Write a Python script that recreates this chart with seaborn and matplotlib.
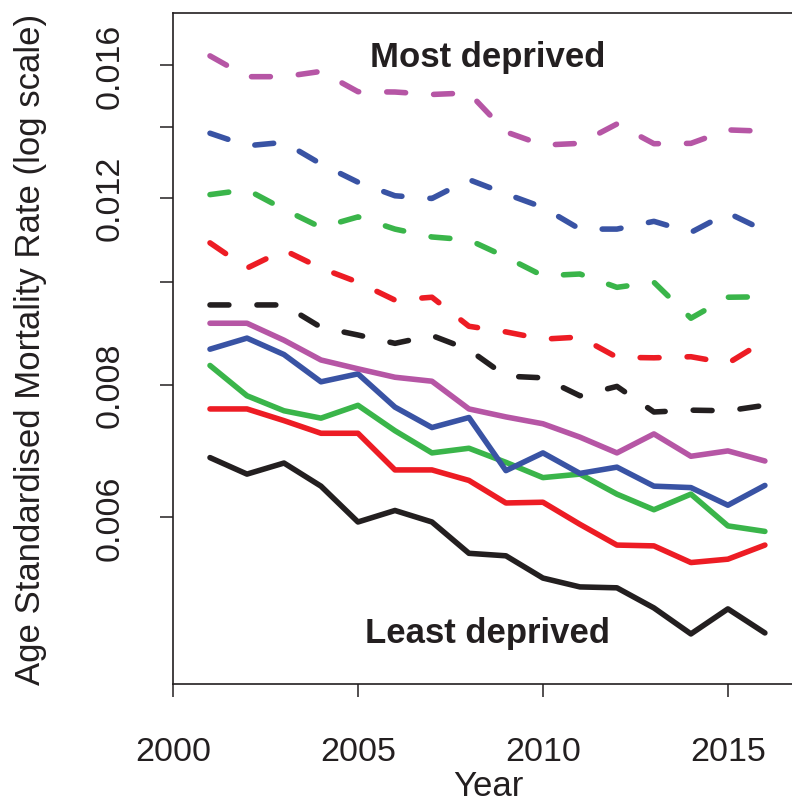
import matplotlib
matplotlib.use("Agg")
import matplotlib.pyplot as plt
import seaborn as sns
from matplotlib.ticker import FixedLocator, FixedFormatter, NullLocator

# --- data (age standardised mortality rate) ---
YEARS = list(range(2001, 2017))

# solid lines
SOLID_BLACK = [0.00683, 0.00659, 0.00675, 0.00642, 0.00594, 0.00609, 0.00594, 0.00555,
               0.00552, 0.00526, 0.00516, 0.00515, 0.00493, 0.00466, 0.00492, 0.00467]
SOLID_RED = [0.00759, 0.00759, 0.00740, 0.00720, 0.00720, 0.00665, 0.00665, 0.00650,
             0.00619, 0.00620, 0.00591, 0.00565, 0.00564, 0.00544, 0.00548, 0.00565]
SOLID_GREEN = [0.00834, 0.00781, 0.00756, 0.00744, 0.00765, 0.00724, 0.00690, 0.00697,
               0.00676, 0.00654, 0.00659, 0.00631, 0.00610, 0.00631, 0.00589, 0.00582]
SOLID_BLUE = [0.00864, 0.00885, 0.00854, 0.00805, 0.00819, 0.00762, 0.00729, 0.00745,
              0.00664, 0.00690, 0.00660, 0.00669, 0.00642, 0.00640, 0.00616, 0.00643]
SOLID_PURPLE = [0.00914, 0.00914, 0.00881, 0.00844, 0.00828, 0.00813, 0.00806, 0.00759,
                0.00746, 0.00735, 0.00714, 0.00690, 0.00719, 0.00685, 0.00693, 0.00678]

# dashed lines
DASH_BLACK = [0.00951, 0.00951, 0.00951, 0.00906, 0.00891, 0.00875, 0.00890, 0.00863,
              0.00815, 0.00812, 0.00781, 0.00797, 0.00754, 0.00757, 0.00756, 0.00765]
DASH_RED = [0.01088, 0.01030, 0.01071, 0.01030, 0.00999, 0.00961, 0.00967, 0.00908,
            0.00897, 0.00883, 0.00887, 0.00849, 0.00848, 0.00850, 0.00838, 0.00880]
DASH_GREEN = [0.01208, 0.01221, 0.01170, 0.01125, 0.01151, 0.01121, 0.01102, 0.01095,
              0.01055, 0.01013, 0.01017, 0.00988, 0.00999, 0.00924, 0.00967, 0.00968]
DASH_BLUE = [0.01380, 0.01343, 0.01353, 0.01291, 0.01241, 0.01205, 0.01198, 0.01248,
             0.01210, 0.01175, 0.01121, 0.01121, 0.01140, 0.01113, 0.01161, 0.01117]
DASH_PURPLE = [0.01632, 0.01560, 0.01560, 0.01578, 0.01510, 0.01509, 0.01501, 0.01506,
               0.01384, 0.01345, 0.01350, 0.01408, 0.01349, 0.01350, 0.01390, 0.01386]

COLORS = ["#231F20", "#ED1C24", "#3AB54A", "#3953A4", "#B656A5"]
SOLID = [SOLID_BLACK, SOLID_RED, SOLID_GREEN, SOLID_BLUE, SOLID_PURPLE]
DASHED = [DASH_BLACK, DASH_RED, DASH_GREEN, DASH_BLUE, DASH_PURPLE]

XTICKS = [2000, 2005, 2010, 2015]
YTICKS = [0.006, 0.008, 0.010, 0.012, 0.014, 0.016]
YTICK_LABELS = ["0.006", "0.008", "", "0.012", "", "0.016"]

TEXT_COLOR = "#231F20"

sns.set_style("ticks")
plt.rcParams['font.family'] = ['Liberation Sans', 'DejaVu Sans']

fig = plt.figure(figsize=(7.92, 8.04), dpi=100)
# axes runs a bit past the right edge, like the cropped original
ax = fig.add_axes([173 / 792, 1 - 684.5 / 804, 630 / 792, 670.5 / 804])

for vals, c in zip(DASHED, COLORS):
    sns.lineplot(x=YEARS, y=vals, ax=ax, color=c, linewidth=4,
                 linestyle=(0, (3.4, 5.05)), dash_capstyle='round',
                 dash_joinstyle='round')
for vals, c in zip(SOLID, COLORS):
    sns.lineplot(x=YEARS, y=vals, ax=ax, color=c, linewidth=4,
                 solid_capstyle='round', solid_joinstyle='round')

ax.set_yscale('log')
ax.set_xlim(2000, 2017.03)
ax.set_ylim(0.004185, 0.01791)
ax.set_xticks(XTICKS)
ax.yaxis.set_major_locator(FixedLocator(YTICKS))
ax.yaxis.set_major_formatter(FixedFormatter(YTICK_LABELS))
ax.yaxis.set_minor_locator(NullLocator())

ax.tick_params(axis='both', direction='out', length=9.4, width=1.1,
               color=TEXT_COLOR, labelcolor=TEXT_COLOR, labelsize=24.5)
ax.tick_params(axis='x', pad=28.5)
ax.tick_params(axis='y', pad=25)
for lab in ax.get_yticklabels():
    lab.set_rotation(90)
    lab.set_va('center')

for s in ax.spines.values():
    s.set_linewidth(1.2)
    s.set_color(TEXT_COLOR)

ax.set_xlabel("Year", fontsize=25, color=TEXT_COLOR)
ax.set_ylabel("Age Standardised Mortality Rate (log scale)", fontsize=25, color=TEXT_COLOR)
ax.xaxis.set_label_coords(0.5, -0.128)
ax.yaxis.set_label_coords(-0.2, 0.5)

ax.text(2008.5, 0.015974, "Most deprived", ha='center', va='baseline',
        fontsize=25, fontweight='bold', color=TEXT_COLOR)
ax.text(2008.5, 0.004576, "Least deprived", ha='center', va='baseline',
        fontsize=25, fontweight='bold', color=TEXT_COLOR)

plt.savefig("out.png", dpi=100)
plt.close()
